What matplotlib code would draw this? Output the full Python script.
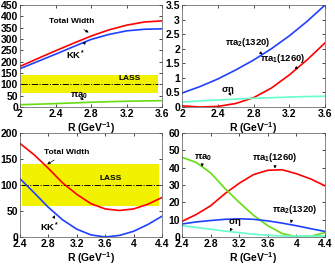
import matplotlib
matplotlib.use('Agg')
import matplotlib.pyplot as plt

# top panels, R from 2 to 3.6
r_top = [2.0, 2.2, 2.4, 2.6, 2.8, 3.0, 3.2, 3.4, 3.6]
tl_total = [179, 214, 248, 281, 313, 340, 361, 375, 380]
tl_kk = [169, 201, 233, 266, 298, 320, 336, 343, 345]
tl_pia0 = [10, 12.5, 15, 18, 21, 23.5, 25.5, 27, 28]

tr_pia2 = [0.48, 0.70, 0.96, 1.27, 1.61, 2.00, 2.44, 2.94, 3.50]
tr_pia1 = [0.04, 0.0, 0.02, 0.12, 0.32, 0.65, 1.10, 1.62, 2.20]
tr_seta = [0.17, 0.21, 0.24, 0.27, 0.30, 0.32, 0.34, 0.36, 0.37]

# bottom panels, R from 2.4 to 4.4
r_bot = [2.4, 2.6, 2.8, 3.0, 3.2, 3.4, 3.6, 3.8, 4.0, 4.2, 4.4]
bl_total = [180, 158, 132, 104, 82, 64, 54, 51, 54, 63, 76]
bl_kk = [112, 85, 57, 33, 15, 4, 0, 3, 11, 24, 40]

br_pia1 = [9, 13, 18, 25, 31, 36, 38.5, 38.8, 36.5, 33.5, 29.5]
br_pia0 = [46, 43, 37, 28, 20, 12.5, 6.5, 2, 0.2, 0.4, 2.5]
br_pia2 = [7.5, 8.7, 9.5, 10.2, 10.5, 10.2, 9.3, 8.0, 6.5, 4.8, 3.2]
br_seta = [6.5, 5.5, 4.5, 3.4, 2.5, 1.6, 1.0, 0.6, 0.5, 0.5, 0.5]

lass_center = 100
lass_low, lass_high = 60, 140

RED = '#ff0000'
BLUE = '#2040ff'
GREEN = '#66dd11'
CYAN = '#66ffcc'
YELLOW = '#f2f200'

plt.rcParams['font.family'] = 'Liberation Sans'
plt.rcParams['font.weight'] = 'bold'
plt.rcParams['font.size'] = 7.5
plt.rcParams['mathtext.fontset'] = 'custom'
plt.rcParams['mathtext.rm'] = 'Liberation Sans:bold'
plt.rcParams['mathtext.it'] = 'Liberation Sans:bold'
plt.rcParams['mathtext.bf'] = 'Liberation Sans:bold'

fig = plt.figure(figsize=(3.35, 2.68), dpi=100)
ax_tl = fig.add_axes([0.0597, 0.6007, 0.424, 0.3806])
ax_tr = fig.add_axes([0.5433, 0.6007, 0.4269, 0.3806])
ax_bl = fig.add_axes([0.0597, 0.1157, 0.424, 0.388])
ax_br = fig.add_axes([0.5433, 0.1157, 0.4269, 0.388])

arrow = dict(arrowstyle='-|>', color='black', lw=0.5, mutation_scale=4)
note = dict(fontsize=6, fontweight='bold', ha='center', va='center')
mnote = dict(fontsize=6.8, fontweight='bold', ha='center', va='center')
lw = 1.2

for ax in [ax_tl, ax_tr, ax_bl, ax_br]:
    ax.tick_params(direction='in', length=2.5, width=0.5, pad=1.5, labelsize=7.5,
                   top=True, right=True)
    for s in ax.spines.values():
        s.set_linewidth(0.5)
        s.set_color('#555555')
    ax.set_xlabel('R (GeV$^{-1}$)', fontsize=7.5, fontweight='bold', labelpad=1)

# top left
ax_tl.fill_between([2.01, 3.56], lass_low, lass_high, color=YELLOW, lw=0)
ax_tl.plot([2.01, 3.56], [lass_center, lass_center], 'k-.', lw=0.7)
ax_tl.plot(r_top, tl_total, color=RED, lw=lw)
ax_tl.plot(r_top, tl_kk, color=BLUE, lw=lw)
ax_tl.plot(r_top, tl_pia0, color=GREEN, lw=lw)
ax_tl.set_xlim(2, 3.6)
ax_tl.set_ylim(0, 450)
ax_tl.set_xticks([2, 2.4, 2.8, 3.2, 3.6])
ax_tl.set_xticklabels(['2', '2.4', '2.8', '3.2', '3.6'])
ax_tl.set_yticks(range(0, 451, 50))
ax_tl.annotate('Total Width', xy=(2.8, 322), xytext=(2.58, 376), arrowprops=arrow, **note)
ax_tl.annotate('KK$^*$', xy=(2.74, 290), xytext=(2.63, 229), arrowprops=arrow, **mnote)
ax_tl.text(3.23, 124, 'LASS', **note)
ax_tl.annotate('$\\pi a_0$', xy=(2.74, 22), xytext=(2.66, 50), arrowprops=arrow, **mnote)

# top right
ax_tr.plot(r_top, tr_pia2, color=BLUE, lw=lw)
ax_tr.plot(r_top, tr_pia1, color=RED, lw=lw)
ax_tr.plot(r_top, tr_seta, color=CYAN, lw=lw)
ax_tr.set_xlim(2, 3.6)
ax_tr.set_ylim(0, 3.5)
ax_tr.set_xticks([2, 2.4, 2.8, 3.2, 3.6])
ax_tr.set_xticklabels(['2', '2.4', '2.8', '3.2', '3.6'])
ax_tr.set_yticks([0, 0.5, 1, 1.5, 2, 2.5, 3, 3.5])
ax_tr.set_yticklabels(['0', '0.5', '1', '1.5', '2', '2.5', '3', '3.5'])
ax_tr.annotate('$\\pi a_2$(1320)', xy=(2.9, 1.8), xytext=(2.74, 2.23), arrowprops=arrow, **mnote)
ax_tr.annotate('$\\pi a_1$(1260)', xy=(3.3, 1.3), xytext=(3.13, 1.66), arrowprops=arrow, **mnote)
ax_tr.annotate('$\\sigma\\eta$', xy=(2.57, 0.31), xytext=(2.51, 0.56), arrowprops=arrow, **mnote)

# bottom left
ax_bl.fill_between([2.43, 4.36], lass_low, lass_high, color=YELLOW, lw=0)
ax_bl.plot([2.43, 4.36], [lass_center, lass_center], 'k-.', lw=0.7)
ax_bl.plot(r_bot, bl_total, color=RED, lw=lw)
ax_bl.plot(r_bot, bl_kk, color=BLUE, lw=lw)
ax_bl.set_xlim(2.4, 4.4)
ax_bl.set_ylim(0, 200)
ax_bl.set_xticks([2.4, 2.8, 3.2, 3.6, 4, 4.4])
ax_bl.set_xticklabels(['2.4', '2.8', '3.2', '3.6', '4', '4.4'])
ax_bl.set_yticks(range(0, 201, 50))
ax_bl.annotate('Total Width', xy=(2.75, 137), xytext=(3.06, 163), arrowprops=arrow, **note)
ax_bl.annotate('KK$^*$', xy=(2.89, 42), xytext=(2.82, 19), arrowprops=arrow, **mnote)
ax_bl.text(3.67, 112, 'LASS', **note)

# bottom right
ax_br.plot(r_bot, br_pia1, color=RED, lw=lw)
ax_br.plot(r_bot, br_pia0, color=GREEN, lw=lw)
ax_br.plot(r_bot, br_pia2, color=BLUE, lw=lw)
ax_br.plot(r_bot, br_seta, color=CYAN, lw=lw)
ax_br.set_xlim(2.4, 4.4)
ax_br.set_ylim(0, 60)
ax_br.set_xticks([2.4, 2.8, 3.2, 3.6, 4, 4.4])
ax_br.set_xticklabels(['2.4', '2.8', '3.2', '3.6', '4', '4.4'])
ax_br.set_yticks(range(0, 61, 10))
ax_br.annotate('$\\pi a_0$', xy=(2.68, 40.5), xytext=(2.69, 46), arrowprops=arrow, **mnote)
ax_br.annotate('$\\pi a_1$(1260)', xy=(3.7, 39.5), xytext=(3.7, 46), arrowprops=arrow, **mnote)
ax_br.annotate('$\\pi a_2$(1320)', xy=(3.92, 8), xytext=(3.98, 15.6), arrowprops=arrow, **mnote)
ax_br.annotate('$\\sigma\\eta$', xy=(3.07, 3.2), xytext=(3.14, 8.6), arrowprops=arrow, **mnote)

fig.savefig('out.png', dpi=100)
